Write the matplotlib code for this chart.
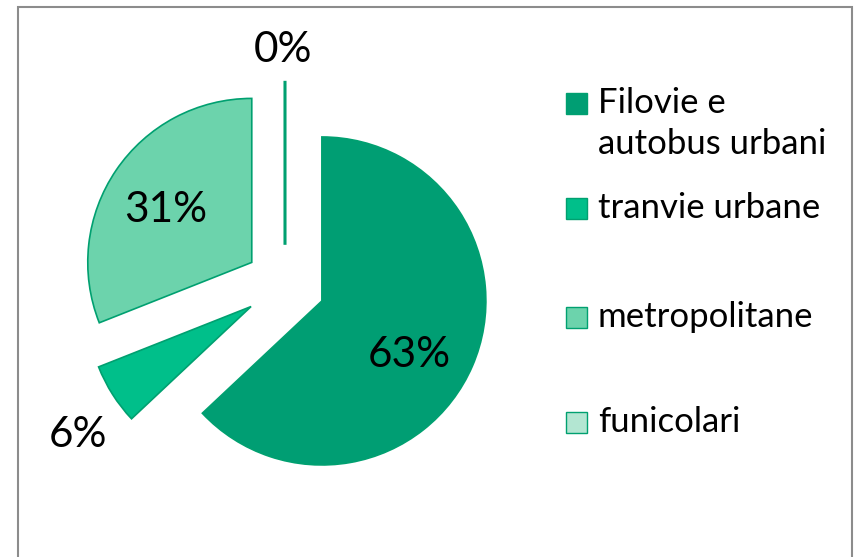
import matplotlib.pyplot as plt
import matplotlib.patches as mpatches
import numpy as np

plt.rcParams['font.family'] = ['Lato', 'DejaVu Sans']

labels = ['Filovie e\nautobus urbani', 'tranvie urbane', 'metropolitane', 'funicolari']
values = [63, 6, 31, 0]
pct_text = ['63%', '6%', '31%', '0%']
colors = ['#009E73', '#00BF8A', '#6CD3AC', '#B3E6D2']
edge = '#00A070'

W, H = 856, 557
fig = plt.figure(figsize=(W / 100, H / 100), dpi=100)

# pie centre / radius in pixels
cx, cy, R = 285, 285, 164
ax = fig.add_axes([0, 0, 1, 1])
wedges, _ = ax.pie(values, colors=colors, startangle=90, counterclock=False,
                   explode=[0.245] * 4,
                   wedgeprops=dict(edgecolor=edge, linewidth=1.2))
wedges[3].set_linewidth(2.2)
ax.set_aspect('auto')
ax.set_xlim(-cx / R, (W - cx) / R)
ax.set_ylim(-(H - cy) / R, cy / R)
ax.axis('off')

# labels along each wedge's bisector
label_r = [0.87, 1.56, 0.86, 1.43]
label_shift = [-6, 3.6, 2, 0.5]
for w, t, lr, sh in zip(wedges, pct_text, label_r, label_shift):
    a = np.deg2rad((w.theta1 + w.theta2) / 2 + sh)
    ax.text(lr * np.cos(a), lr * np.sin(a), t, fontsize=30.5,
            ha='center', va='center', color='black')

# legend drawn by hand
leg_y = [103, 208, 317, 422]
for lab, col, y in zip(labels, colors, leg_y):
    fig.patches.append(mpatches.Rectangle(((566) / W, 1 - (y + 10.5) / H), 21 / W, 21 / H,
                                          transform=fig.transFigure, facecolor=col,
                                          edgecolor=edge, linewidth=1))
    fig.text(598 / W, 1 - (y - 16) / H, lab, fontsize=25, va='top', ha='left',
             linespacing=1.36)

# outer border
fig.patches.append(mpatches.Rectangle((18 / W, -0.02), (852 - 18) / W, 1.02 - 7 / H,
                                      transform=fig.transFigure, fill=False,
                                      edgecolor='#8c8c8c', linewidth=1.5))

fig.savefig('out.png', dpi=100)
